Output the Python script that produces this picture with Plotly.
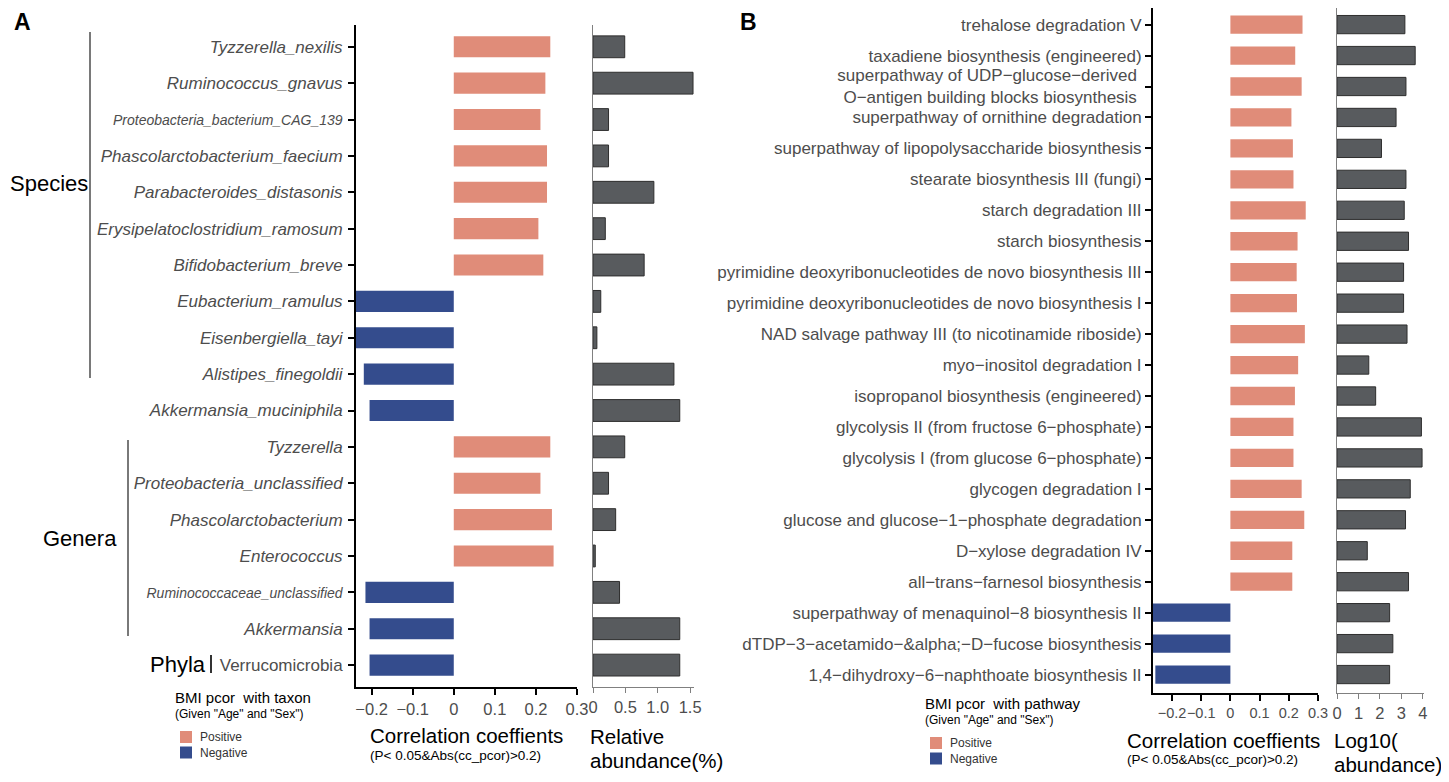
import plotly.graph_objects as go

# the page body keeps its default 8px margin, so the figure is drawn 8px smaller
# and every reference pixel position is shifted by OFF
OFF = 8
W, H = 1449 - OFF, 782 - OFF

# ---- panel A: taxa ----
taxa = ["Tyzzerella_nexilis", "Ruminococcus_gnavus", "Proteobacteria_bacterium_CAG_139",
        "Phascolarctobacterium_faecium", "Parabacteroides_distasonis", "Erysipelatoclostridium_ramosum",
        "Bifidobacterium_breve", "Eubacterium_ramulus", "Eisenbergiella_tayi", "Alistipes_finegoldii",
        "Akkermansia_muciniphila", "Tyzzerella", "Proteobacteria_unclassified", "Phascolarctobacterium",
        "Enterococcus", "Ruminococcaceae_unclassified", "Akkermansia", "Verrucomicrobia"]
taxa_cor = [0.235, 0.223, 0.211, 0.227, 0.227, 0.206, 0.218, -0.24, -0.24, -0.219,
            -0.205, 0.235, 0.211, 0.239, 0.243, -0.215, -0.205, -0.205]
taxa_abund = [0.49, 1.545, 0.24, 0.24, 0.94, 0.19, 0.79, 0.12, 0.06, 1.25,
              1.34, 0.49, 0.24, 0.35, 0.035, 0.41, 1.34, 1.34]
small_taxa = ["Proteobacteria_bacterium_CAG_139", "Ruminococcaceae_unclassified"]
upright_taxa = ["Verrucomicrobia"]

# ---- panel B: pathways ----
pathways = ["trehalose degradation V", "taxadiene biosynthesis (engineered)",
            "superpathway of UDP−glucose−derived <br>O−antigen building blocks biosynthesis ",
            "superpathway of ornithine degradation", "superpathway of lipopolysaccharide biosynthesis",
            "stearate biosynthesis III (fungi)", "starch degradation III", "starch biosynthesis",
            "pyrimidine deoxyribonucleotides de novo biosynthesis III",
            "pyrimidine deoxyribonucleotides de novo biosynthesis I",
            "NAD salvage pathway III (to nicotinamide riboside)", "myo−inositol degradation I",
            "isopropanol biosynthesis (engineered)", "glycolysis II (from fructose 6−phosphate)",
            "glycolysis I (from glucose 6−phosphate)", "glycogen degradation I",
            "glucose and glucose−1−phosphate degradation", "D−xylose degradation IV",
            "all−trans−farnesol biosynthesis", "superpathway of menaquinol−8 biosynthesis II",
            "dTDP−3−acetamido−&amp;alpha;−D−fucose biosynthesis",
            "1,4−dihydroxy−6−naphthoate biosynthesis II"]
path_cor = [0.247, 0.222, 0.244, 0.209, 0.214, 0.216, 0.258, 0.230, 0.227, 0.228, 0.255,
            0.232, 0.221, 0.216, 0.216, 0.244, 0.253, 0.212, 0.212, -0.27, -0.27, -0.257]
path_log_abund = [3.16, 3.64, 3.21, 2.75, 2.07, 3.21, 3.13, 3.33, 3.10, 3.10, 3.26,
                  1.48, 1.80, 3.93, 3.96, 3.41, 3.19, 1.41, 3.33, 2.45, 2.60, 2.45]

POS = "#E08C79"
NEG = "#344C8D"
GREY_BAR = "#585B5E"
LABEL = "#4D4D4D"
FONT = "Liberation Sans, Arial, sans-serif"


def px_x(p):
    return (p - OFF) / W


def px_y(p):
    return 1 - (p - OFF) / H


def row_range(first, step, top, bottom):
    # category range that puts row 0 at pixel `first` with `step` px per row
    return [(bottom - first) / step, (top - first) / step]


def taxon_label(name):
    if name in upright_taxa:
        return name
    if name in small_taxa:
        return "<i><span style='font-size:14px'>" + name + "</span></i>"
    return "<i>" + name + "</i>"


fig = go.Figure()

# correlation bars, split by sign
for xa, ya, vals, w in [("x", "y", taxa_cor, 0.58), ("x3", "y3", path_cor, 0.59)]:
    pos_idx = [i for i, v in enumerate(vals) if v > 0]
    neg_idx = [i for i, v in enumerate(vals) if v < 0]
    fig.add_trace(go.Bar(x=[vals[i] for i in pos_idx], y=pos_idx, orientation="h", width=w,
                         marker=dict(color=POS, line=dict(width=0)), name="Positive",
                         showlegend=False, xaxis=xa, yaxis=ya))
    fig.add_trace(go.Bar(x=[vals[i] for i in neg_idx], y=neg_idx, orientation="h", width=w,
                         marker=dict(color=NEG, line=dict(width=0)), name="Negative",
                         showlegend=False, xaxis=xa, yaxis=ya))

fig.add_trace(go.Bar(x=taxa_abund, y=list(range(len(taxa))), orientation="h", width=0.6,
                     marker=dict(color=GREY_BAR, line=dict(color="#2E2E2E", width=1)),
                     showlegend=False, xaxis="x2", yaxis="y2"))
fig.add_trace(go.Bar(x=path_log_abund, y=list(range(len(pathways))), orientation="h", width=0.59,
                     marker=dict(color=GREY_BAR, line=dict(color="#2E2E2E", width=1)),
                     showlegend=False, xaxis="x4", yaxis="y4"))

tickfont = dict(family=FONT, size=17, color=LABEL)
xtickfont = dict(family=FONT, size=16.5, color=LABEL)

ydom_a = [px_y(687), px_y(25)]
ydom_b = [px_y(693), px_y(OFF)]
yrange_a = row_range(46.8, 36.37, 25, 687)
yrange_b = row_range(24.6, 30.95, OFF, 693)

corr_x = dict(showline=True, linecolor="black", linewidth=2, ticks="outside", ticklen=6,
              tickcolor="black", tickwidth=1.5, showgrid=False, zeroline=False, automargin=False,
              tickangle=0, tickvals=[-0.2, -0.1, 0, 0.1, 0.2, 0.3])
corr_y = dict(showline=True, linecolor="black", linewidth=2, ticks="outside", ticklen=6,
              tickcolor="black", tickwidth=1.5, showgrid=False, zeroline=False, automargin=False,
              tickfont=tickfont)
abund_x = dict(showline=True, linecolor="#808080", linewidth=1, ticks="outside", ticklen=5,
               tickcolor="#808080", showgrid=False, zeroline=False, automargin=False,
               tickangle=0, tickfont=xtickfont)
abund_y = dict(showline=True, linecolor="#808080", linewidth=1, ticks="", showgrid=False,
               zeroline=False, showticklabels=False, automargin=False)

fig.update_layout(
    width=W, height=H, margin=dict(l=0, r=0, t=0, b=0, autoexpand=False),
    paper_bgcolor="white", plot_bgcolor="white",
    font=dict(family=FONT, color="black"),
    showlegend=False,
    xaxis=dict(domain=[px_x(356), px_x(577)], range=[-0.238, 0.3], anchor="y",
               tickfont=xtickfont, **corr_x),
    yaxis=dict(domain=ydom_a, range=yrange_a, anchor="x", tickvals=list(range(len(taxa))),
               ticktext=[taxon_label(t) for t in taxa], ticklabelstandoff=2, **corr_y),
    xaxis2=dict(domain=[px_x(593), px_x(694)], range=[0, 1.56], anchor="y2",
                tickvals=[0, 0.5, 1, 1.5], ticktext=["0", "0.5", "1.0", "1.5"], **abund_x),
    yaxis2=dict(domain=ydom_a, range=yrange_a, anchor="x2", **abund_y),
    xaxis3=dict(domain=[px_x(1153), px_x(1318)], range=[-0.265, 0.3], anchor="y3",
                tickfont=dict(family=FONT, size=14.5, color=LABEL), **corr_x),
    yaxis3=dict(domain=ydom_b, range=yrange_b, anchor="x3", tickvals=list(range(len(pathways))),
                ticktext=pathways, ticklabelstandoff=0, **corr_y),
    xaxis4=dict(domain=[px_x(1337), px_x(1424)], range=[0, 4.05], anchor="y4",
                tickvals=[0, 1, 2, 3, 4], **abund_x),
    yaxis4=dict(domain=ydom_b, range=yrange_b, anchor="x4", **abund_y),
)

ann = []


def text(x, y, s, size, color="black", bold=False):
    ann.append(dict(x=px_x(x - 2), y=px_y(y), xref="paper", yref="paper", text=s, showarrow=False,
                    xanchor="left", yanchor="middle", align="left",
                    font=dict(family=FONT, size=size, color=color,
                              weight="bold" if bold else "normal")))


text(14, 22, "A", 23, bold=True)
text(740, 22, "B", 23, bold=True)
text(10, 183, "Species", 22)
text(43, 538, "Genera", 22)
text(150, 664, "Phyla", 22)

text(370, 735, "Correlation coeffients", 20.5)
text(370, 755, "(P&lt; 0.05&amp;Abs(cc_pcor)&gt;0.2)", 13.5)
text(590, 736, "Relative", 20.5)
text(590, 760, "abundance(%)", 20.5)
text(1127, 740, "Correlation coeffients", 20.5)
text(1127, 759, "(P&lt; 0.05&amp;Abs(cc_pcor)&gt;0.2)", 13.5)
text(1334, 740, "Log10(", 20.5)
text(1334, 764, "abundance)", 20.5)

# legends: title, subtitle and one swatch per sign
for lx, ly, what in [(175, 697, "taxon"), (925, 703, "pathway")]:
    text(lx, ly, "BMI pcor&nbsp; with " + what, 15)
    text(lx, ly + 17, "(Given \"Age\" and \"Sex\")", 12)
    for k, (lab, col) in enumerate([("Positive", POS), ("Negative", NEG)]):
        cy = ly + 40 + k * 15.5
        fig.add_shape(type="rect", xref="paper", yref="paper", x0=px_x(lx + 5), x1=px_x(lx + 17),
                      y0=px_y(cy - 6), y1=px_y(cy + 6), fillcolor=col, line=dict(width=0))
        text(lx + 25, cy, lab, 12, color="#333")

fig.update_layout(annotations=ann)

line = dict(color="#4D4D4D", width=1.5)
fig.add_shape(type="line", xref="paper", yref="paper", x0=px_x(90), x1=px_x(90),
              y0=px_y(32), y1=px_y(378), line=line)
fig.add_shape(type="line", xref="paper", yref="paper", x0=px_x(128), x1=px_x(128),
              y0=px_y(440), y1=px_y(636), line=line)
fig.add_shape(type="line", xref="paper", yref="paper", x0=px_x(211), x1=px_x(211),
              y0=px_y(655), y1=px_y(673), line=dict(color="#333", width=2))

fig.write_html("out.html")
